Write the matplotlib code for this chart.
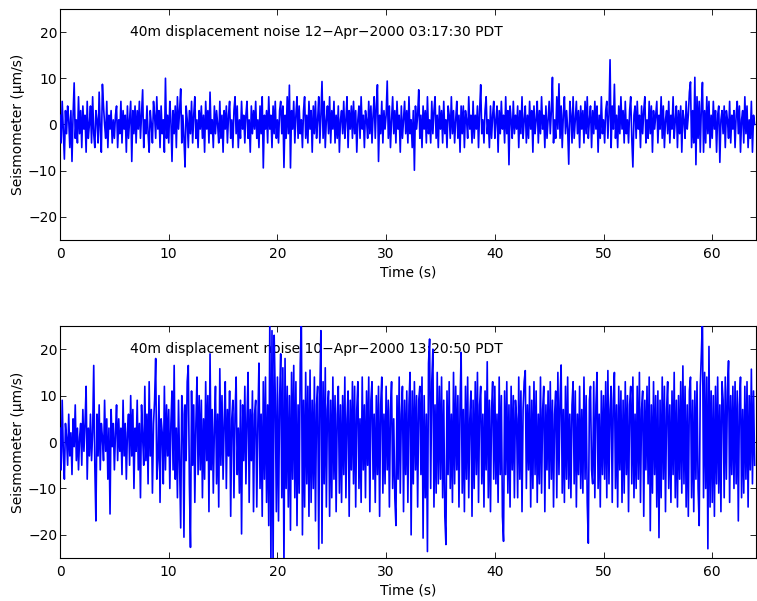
import numpy as np
import matplotlib
matplotlib.use('Agg')
import matplotlib.pyplot as plt

plt.rcParams['font.family'] = ['DejaVu Sans']
plt.rcParams['font.size'] = 10

# sample interval (s)
dt = 0.1

# 12-Apr-2000 record, one row per second (um/s)
quiet = [
    2, -4, 5, -1, -7.5, 3, -2, 4, 1, -5,
    3, -8, 2, 9, -3, 1, -4, 6, -2, 3,
    -5, 4, -1, 2, -6, 5, -3, 0, 4, -4,
    6, -2, -5, 3, 1, -4, 7, -1, -6, 8.7,
    4, 0, -3, 5, -5, 2, -1, 3, -4, 1,
    -3, 2, 4, -5, 1, -2, 5, -4, 3, -1,
    2, -6, 4, -3, 1, 5, -8, 3, -2, 4,
    -4, 3, -1, 5, -3, 2, 7.5, -5, 1, -2,
    4, -2, -6, 3, 0, -4, 5, 2, -3, 6,
    -1, 3, -5, 4, -2, 1, -6, 10, -3, 2,
    -4, 5, 1, -8, 3, -2, 4, -5, 6, -1,
    3, 7.7, -4, 2, -3, -9.2, 4, 1, -5, 3,
    -2, 5, -4, 2, 6, -3, 1, -5, 3, -1,
    4, -3, 2, -6, 5, -1, 3, -4, 7, -2,
    1, -5, 4, -2, 3, 0, -4, 5, -3, 2,
    -6, 3, -1, 4, -4, 2, 5, -3, 1, -5,
    3, 6, -2, 4, -5, 1, -3, 5, -1, 2,
    -4, 2, 5, -3, 1, -6, 4, -2, 3, -1,
    5, -3, 1, -5, 4, -2, 6, -9.4, 2, -1,
    3, -4, 6, -1, 2, -5, 4, -2, 5, -3,
    1, -4, 3, 5, -2, 4, -9.3, 2, -3, 6,
    -2, 8.5, -9.4, 3, -1, 5, -4, 2, 6, -3,
    4, -2, 1, -5, 3, 6, -3, 2, -4, 5,
    -1, 3, -6, 4, -2, 5, -3, 1, 6, -4,
    2, 9.3, -3, 5, -5, 1, 4, -2, 6, -4,
    3, -1, 5, -4, 2, -3, 4, -6, 1, 3,
    -2, 5, -3, 1, 6, -5, 3, -1, 4, -3,
    5, -2, 3, -6, 1, 4, -3, 6, -1, 2,
    -5, 3, 1, -3, 5, -2, 4, -4, 2, 6,
    -3, 4, 8.6, -8, 2, -2, 5, -4, 3, -1,
    2, 9.4, -3, 4, -5, 1, 6, -2, 3, -4,
    5, -1, 2, -6, 4, -3, 1, 5, -2, 3,
    -4, 6, -2, 1, -5, 3, -9.9, 4, -1, 2,
    7.5, -3, 2, -5, 4, -1, 3, -4, 6, -2,
    1, -4, 5, -2, 3, 6, -3, 2, -5, 4,
    -1, 3, -4, 5, -2, 1, -5, 4, 2, -3,
    6, -2, 3, -4, 1, 5, -3, 2, -6, 4,
    -2, 4, -5, 3, 1, -3, 6, -1, 2, -4,
    5, -3, 2, -1, 4, -5, 3, 8.6, -2, 1,
    -4, 3, 6, -2, 1, -5, 4, -3, 2, 5,
    -3, 1, 4, -6, 3, -2, 5, -1, 2, -4,
    6, -2, 3, -8.7, 4, 1, -3, 5, -2, 2,
    -1, 4, -5, 3, -2, 6, -3, 1, 4, -4,
    2, -3, 5, -1, 3, -6, 4, -2, 1, 5,
    -4, 3, -2, 6, -1, 2, -5, 4, -3, 1,
    5, -2, 3, 10.2, -4, 1, -3, 6, -1, 8.8,
    -3, 4, -5, 2, 6, -2, 3, -1, -8.6, 5,
    2, -4, 6, -3, 1, 5, -2, 3, -5, 4,
    -1, 3, -4, 5, -2, 6, -3, 1, 4, -5,
    3, -2, 5, -1, 4, -6, 2, -3, 6, -2,
    1, -4, 3, 5, -3, 2, 14, -5, 4, -1,
    8.7, -3, 2, -5, 4, -2, 6, -1, 3, -4,
    5, -2, 1, -4, 3, 6, -3, -9.2, 2, 4,
    -3, 5, -1, 2, -5, 4, -2, 3, 6, -4,
    1, -3, 5, -2, 4, -6, 3, -1, 2, 5,
    -4, 2, -1, 6, -3, 4, -5, 1, 3, -2,
    5, -4, 2, -1, 6, -3, 1, 4, -5, 3,
    -2, 4, -6, 3, 1, -3, 5, -1, 2, 7,
    9.2, -5, 3, -4, 10.2, -8.7, 6, -3, 5, -6,
    4, 9.1, -6, 3, -4, 6, -2, 5, -5, 2,
    -3, 5, -1, 3, -6, 2, 4, -8.2, 1, 3,
    -2, 4, -5, 3, 1, -3, 5, -4, 2, -1,
    3, -5, 2, 5, -2, 4, -6, 1, 3, -4,
    6, -2, 4, -5, 1, -3, 5, -6, 2, 0,
]

# 10-Apr-2000 record (um/s)
noisy = [
    3, -6, 9, -2, -8, 4, 1, -5, 6, -3,
    2, -7, 5, -1, 8, -4, 3, -6, 1, 4,
    -5, 7, -2, 4, 12, -8, 3, -3, 6, -4,
    2, 16.5, -5, -17, 6, -3, 8, -6, 4, 1,
    -4, 9, -2, 5, -8, 3, -15.5, 7, -1, 4,
    -6, 2, 8, -4, 5, -2, 3, -7, 9, -3,
    4, -8, 2, 6, -5, 10, -3, 7, -10, 3,
    -2, 9, -6, 4, -12, 8, 1, -5, 12, -4,
    6, -9, 13, -3, 7, -11, 4, 9, 18, -8,
    -4, 10, -13, 5, 2, -9, 12, -6, 8, -3,
    7, -10, 4, 11, -6, 16.5, -8, 3, -12, 9,
    -5, -18.5, 10, 6, -20.5, 8, -4, 13, 16.5, -9,
    -22.7, 11, -5, 8, -13, 4, 14, -7, 10, -6,
    9, -12, 5, -8, 13, -4, 10, -15, 19, -6,
    7, -11, 3, 12, -9, 6, -14, 15.8, -5, 10,
    -8, 4, 13, -10, 7, -3, 11, -16, 5, 9,
    -12, 6, 14, -7, 3, -11, 9, -19.8, 8, -4,
    12, -9, 5, 15, -13, 7, -4, 11, -15, 6,
    9, -14, 4, 17, -10, 6, -16, 13, -8, 14,
    -13, 8, -18, 27, -27, 24, -27, 23, 10, -15,
    14, -17, 9, 19, -12, 16, -27, 18, -10, 12,
    -14, 10, -19, 15, -8, 16.5, -12, 13, -18, 8,
    -11, 17, 27, -20, 9, -14, 15, -9, 12, -16,
    15.5, -13, 9, -10, 14, -17, 8, 12, -23, 10,
    24, -21.8, 13, -9, 16, -14, 7, 11, -16, 9,
    -12, 14, -8, 10, -15, 6, 12, -11, 8, -13,
    10, -7, 14, -12, 5, 11, -16, 9, -6, 13,
    -9, 12, -14, 7, 13, -10, 5, -13, 14, -6,
    8, -12, 11, -5, 14, -15, 9, 13, -8, 6,
    -13, 10, -7, 12, -16, 8, 14, -11, 6, -9,
    12, -6, 9, -14, 7, 13, -10, 5, -12, -18,
    10, -8, 14, -11, 6, 12, -15, 9, -7, 11,
    -13, 8, 15, -20, 11, -9, 13, -6, 10, -14,
    9, 12, -7, 14, -20.7, 10, -12, 6, -23.6, 17,
    22.2, -10, 13, 20, -14, 8, -11, 15, -9, 12,
    -8, 14, -12, 9, -16, -22.1, 11, -7, 13, -10,
    6, -13, 15, -9, 12, -6, 10, -14, 8, 19.3,
    -11, 7, -15, 12, -8, 14, -12, 5, 11, -16,
    9, -10, 13, -7, 15, -13, 8, 12, -9, 6,
    -14, 11, -6, 17.3, -12, 9, -15, 7, 13, -8,
    12, -9, 6, -13, 14, -7, 10, -16, -21.4, 11,
    -7, 13, -11, 8, -14, 12, -6, 10, -12, 9,
    5, -12, 14, -8, 11, -15, 7, 13, 15.4, -10,
    8, -6, 12, -14, 9, -10, 13, -7, 11, -13,
    6, -9, 14, -11, 7, 12, -15, 8, -6, 11,
    -10, 13, -8, 9, -14, 6, 11, -12, 15, -7,
    9, 16.6, -11, 7, -13, 12, -8, 14, -10, 6,
    -12, 8, 13, -9, 11, -14, 6, -7, 12, -10,
    7, -11, 14, -8, 10, -13, -21.8, 9, 12, -6,
    -9, 13, -12, 8, 15, -10, 6, -14, 11, -7,
    10, -8, 13, -12, 15.4, -9, 7, 12, -13, 9,
    15, -10, 8, -14, 12, -6, 11, -13, 9, -11,
    13, -7, 10, -15, 8, 12, -9, 14, -12, 6,
    -10, 12, -8, 15, -13, 7, 11, -16, 9, -6,
    12, -9, 14, -19.1, 8, -11, 13, -7, 10, -14,
    11, -20.6, 9, -12, 14, -8, 12, -15, 7, 13,
    -10, 8, -13, 11, -7, 15, -12, 9, -14, 10,
    -8, 13, -11, 16.4, -9, 12, -14, 8, -16, 11,
    14, -12, 9, -15, 11, -8, 13, -10, -18, 12,
    19, 27, -12, 15, -10, 14, -23, 20.6, -14, 11,
    -13, 10, -16, 12, -9, 14, -11, 8, -15, 13,
    9, -12, 14, -8, 11, 17.5, -13, 10, -7, 12,
    -10, 13, -9, 11, -17, 8, 14, -12, 7, -11,
    12, -8, 13, -14, 10, -6, 15.7, -9, 11, -5,
]

titles = ["40m displacement noise 12\u2212Apr\u22122000 03:17:30 PDT",
          "40m displacement noise 10\u2212Apr\u22122000 13:20:50 PDT"]

fig = plt.figure(figsize=(7.57, 6.01), dpi=100)
ax1 = fig.add_axes([0.0793, 0.6007, 0.919, 0.3844])
ax2 = fig.add_axes([0.0793, 0.0715, 0.919, 0.386])

for ax, vals, title in zip([ax1, ax2], [quiet, noisy], titles):
    t = np.arange(len(vals)) * dt
    ax.plot(t, vals, color='#0000ff', linewidth=1.2, zorder=3)
    ax.set_xlim(0, 64)
    ax.set_ylim(-25, 25)
    ax.set_xticks(range(0, 61, 10))
    ax.set_yticks(range(-20, 21, 10))
    ax.tick_params(direction='in', top=True, right=True, length=4, width=0.6, labelsize=10)
    ax.tick_params(axis='x', pad=5)
    ax.tick_params(axis='y', pad=2)
    for s in ax.spines.values():
        s.set_linewidth(0.8)
    ax.set_xlabel('Time (s)', labelpad=3)
    ax.set_ylabel('Seismometer (\u00b5m/s)', labelpad=2)
    ax.text(6.4, 20, title, va='center', ha='left', fontsize=10, zorder=2)

plt.savefig('out.png', dpi=100)
